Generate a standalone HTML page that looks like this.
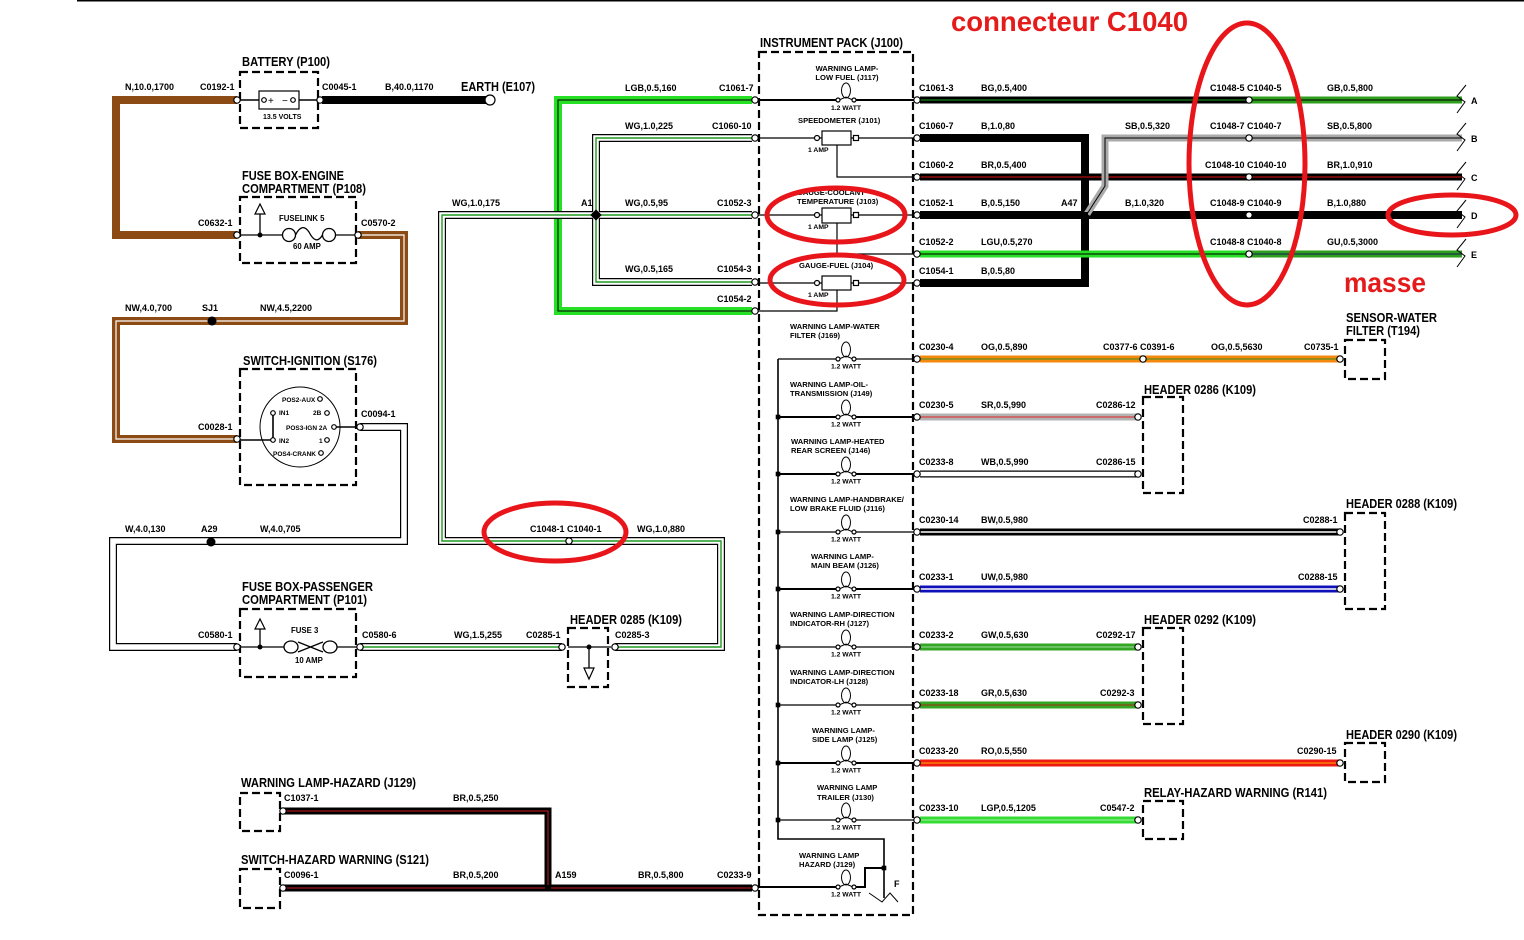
<!DOCTYPE html>
<html><head><meta charset="utf-8">
<style>
html,body{margin:0;padding:0;background:#fff;}
svg{display:block}
text{font-family:"Liberation Sans",Arial,sans-serif;font-weight:bold;fill:#000}
.l{font-size:9px}
.t{font-size:12.5px}
.s{font-size:7.6px}
.w{font-size:6.8px}
.r{fill:#e51b1b;font-size:28px}
.db{fill:none;stroke:#000;stroke-width:2.2;stroke-dasharray:8 4}
.c{fill:#fff;stroke:#000;stroke-width:1.2}
.k{fill:none;stroke:#000}
</style></head><body>
<svg width="1524" height="940" viewBox="0 0 1524 940" xmlns="http://www.w3.org/2000/svg">
<line x1="77" y1="0.75" x2="1524" y2="0.75" stroke="#000" stroke-width="1.5"/>

<!-- ===== LEFT WIRES ===== -->
<g fill="none" stroke-linejoin="miter">
<path d="M237,100H116V235H237" stroke="#8c4b14" stroke-width="8"/>
<path d="M322,100H484" stroke="#000" stroke-width="8"/>
<path d="M358,235H404V321H116V439H237" stroke="#8c4b14" stroke-width="8"/>
<path d="M358,235H404V321H116V439H237" stroke="#fff" stroke-width="1.2"/>
<path d="M360,427H404V541H113V647H237" stroke="#000" stroke-width="8"/>
<path d="M360,427H404V541H113V647H237" stroke="#fff" stroke-width="5.6"/>

<!-- LGB -->
<path d="M752,100H558V311H752" stroke="#25e025" stroke-width="8"/>
<path d="M752,100H558V311H752" stroke="#000" stroke-width="1"/>

<!-- WG -->
<g stroke="#000" stroke-width="8">
<path d="M360,647H562"/><path d="M615,647H721V541H442V215H752"/><path d="M596,215V138H752"/><path d="M596,215V282H752"/>
</g>
<g stroke="#fff" stroke-width="5.6">
<path d="M360,647H562"/><path d="M615,647H721V541H442V215H752"/><path d="M596,215V138H752"/><path d="M596,215V282H752"/>
</g>
<g stroke="#1f9a1f" stroke-width="1.4">
<path d="M360,647H562"/><path d="M615,647H721V541H442V215H752"/><path d="M596,215V138H752"/><path d="M596,215V282H752"/>
</g>

<!-- BR hazard -->
<path d="M283,811H548V888" stroke="#000" stroke-width="7"/>
<path d="M283,888H752" stroke="#000" stroke-width="7"/>
<path d="M283,811H548V888" stroke="#d01a1a" stroke-width="1"/>
<path d="M283,888H752" stroke="#d01a1a" stroke-width="1"/>

<!-- ===== RIGHT UPPER WIRES ===== -->
<path d="M920,138H1085V283H920" stroke="#000" stroke-width="8"/>
<path d="M920,100H1249" stroke="#000" stroke-width="7"/>
<path d="M920,100H1249" stroke="#20a020" stroke-width="1"/>
<path d="M1249,100H1462" stroke="#2e9e1e" stroke-width="7"/>
<path d="M1249,100H1462" stroke="#000" stroke-width="1"/>
<path d="M920,177H1462" stroke="#000" stroke-width="7"/>
<path d="M920,177H1462" stroke="#e01010" stroke-width="1"/>
<path d="M920,215H1462" stroke="#000" stroke-width="8"/>
<path d="M920,254H1249" stroke="#25e025" stroke-width="7"/>
<path d="M920,254H1249" stroke="#000" stroke-width="1"/>
<path d="M1249,254H1462" stroke="#2e9e1e" stroke-width="7"/>
<path d="M1249,254H1462" stroke="#102060" stroke-width="1"/>
<path d="M1087,214L1105,186V138H1462" stroke="#aaa" stroke-width="7"/>
<path d="M1087,214L1105,186V138H1462" stroke="#000" stroke-width="1"/>

<!-- ===== RIGHT LOWER WIRES ===== -->
<path d="M920,359H1340" stroke="#f5890f" stroke-width="7"/>
<path d="M920,359H1340" stroke="#3b8f1f" stroke-width="1"/>
<path d="M920,417H1138" stroke="#b3b3b3" stroke-width="7"/>
<path d="M920,417H1138" stroke="#e02020" stroke-width="1"/>
<path d="M920,474H1138" stroke="#000" stroke-width="7"/>
<path d="M920,474H1138" stroke="#fff" stroke-width="4.6"/>
<path d="M920,532H1340" stroke="#000" stroke-width="7"/>
<path d="M920,532H1340" stroke="#fff" stroke-width="1.5"/>
<path d="M920,589H1340" stroke="#1010b8" stroke-width="7"/>
<path d="M920,589H1340" stroke="#fff" stroke-width="1.5"/>
<path d="M920,647H1138" stroke="#35a525" stroke-width="7"/>
<path d="M920,647H1138" stroke="#9be09b" stroke-width="1"/>
<path d="M920,705H1138" stroke="#35a525" stroke-width="7"/>
<path d="M920,705H1138" stroke="#a03010" stroke-width="1"/>
<path d="M920,763H1340" stroke="#ee1a12" stroke-width="7"/>
<path d="M920,763H1340" stroke="#ffb000" stroke-width="1"/>
<path d="M920,820H1138" stroke="#36dc36" stroke-width="7"/>
<path d="M920,820H1138" stroke="#a0f0a0" stroke-width="1"/>
</g>

<!-- break symbols -->
<g fill="none" stroke="#000" stroke-width="1">
<polyline points="1466,85 1457,96 1465,102 1457,113"/>
<polyline points="1466,123 1457,134 1465,140 1457,151"/>
<polyline points="1466,162 1457,173 1465,179 1457,190"/>
<polyline points="1466,200 1457,211 1465,217 1457,228"/>
<polyline points="1466,239 1457,250 1465,256 1457,267"/>
</g>

<!-- junctions -->
<circle cx="212" cy="321" r="4.5"/>
<circle cx="211" cy="542" r="4.5"/>
<rect x="592" y="211" width="8" height="8" transform="rotate(45 596 215)"/>
<rect x="1082" y="212" width="6" height="6"/>
<rect x="545" y="885" width="6" height="6"/>

<!-- ===== DASHED BOXES ===== -->
<rect class="db" x="240" y="72" width="78" height="56"/>
<rect class="db" x="240" y="197" width="116" height="66"/>
<rect class="db" x="240" y="369" width="116" height="116"/>
<rect class="db" x="240" y="609" width="116" height="68"/>
<rect class="db" x="568" y="628" width="40" height="59"/>
<rect class="db" x="240" y="793" width="40" height="38"/>
<rect class="db" x="240" y="869" width="40" height="39"/>
<rect class="db" x="759" y="52" width="154" height="863"/>
<rect class="db" x="1345" y="340" width="40" height="39"/>
<rect class="db" x="1143" y="397" width="40" height="96"/>
<rect class="db" x="1345" y="513" width="40" height="96"/>
<rect class="db" x="1143" y="628" width="40" height="96"/>
<rect class="db" x="1345" y="743" width="40" height="39"/>
<rect class="db" x="1143" y="801" width="40" height="38"/>

<!-- battery internals -->
<g stroke="#000" stroke-width="1.5" fill="none">
<path d="M240,100H259M299,100H318"/>
<rect x="259" y="91" width="40" height="18" stroke-width="1.2"/>
</g>
<circle cx="264" cy="100" r="2.3" class="c"/>
<circle cx="293" cy="100" r="2.3" class="c"/>
<text x="268" y="104" style="font-size:10px;font-weight:normal">+</text>
<text x="282" y="104" style="font-size:10px;font-weight:normal">−</text>
<text x="263" y="119" style="font-size:7px">13.5 VOLTS</text>
<rect x="482" y="96" width="4" height="8"/>
<circle cx="490" cy="100" r="5" class="c" stroke-width="1.5"/>

<!-- fuse engine internals -->
<g class="k" stroke-width="1.3">
<path d="M240,235H283M335.5,235H357"/>
<circle cx="289" cy="235" r="6.5"/>
<circle cx="329" cy="235" r="6.5"/>
<path d="M295.5,235 Q302,222 309,232 Q316,246 322.5,235"/>
<path d="M260,235V213"/>
</g>
<circle cx="260" cy="235" r="2.5"/>
<polygon points="255,214 265,214 260,204" fill="#fff" stroke="#000" stroke-width="1.2"/>
<text x="279" y="221" style="font-size:7.8px">FUSELINK 5</text>
<text x="293" y="249" style="font-size:7.8px">60 AMP</text>

<!-- ignition switch -->
<circle cx="300" cy="427" r="40" class="k" stroke-width="1"/>
<g class="k" stroke-width="1.6">
<path d="M237,440H271M273,413V440M336,427H360"/>
</g>
<g>
<circle cx="320" cy="399" r="2.3" class="c"/>
<circle cx="273" cy="413" r="2.3" class="c"/>
<circle cx="327" cy="413" r="2.3" class="c"/>
<circle cx="334" cy="427" r="2.3" class="c"/>
<circle cx="273" cy="440" r="2.3" class="c"/>
<circle cx="327" cy="440" r="2.3" class="c"/>
<circle cx="321" cy="453" r="2.3" class="c"/>
</g>
<g style="font-size:6.5px">
<text x="282" y="402" style="font-size:6.5px">POS2-AUX</text>
<text x="279" y="415" style="font-size:6.5px">IN1</text>
<text x="313" y="415" style="font-size:6.5px">2B</text>
<text x="286" y="430" style="font-size:6.5px">POS3-IGN 2A</text>
<text x="279" y="443" style="font-size:6.5px">IN2</text>
<text x="319" y="443" style="font-size:6.5px">1</text>
<text x="273" y="456" style="font-size:6.5px">POS4-CRANK</text>
</g>

<!-- fuse passenger internals -->
<g class="k" stroke-width="1.3">
<path d="M240,647H284M337,647H357"/>
<ellipse cx="291" cy="647" rx="7" ry="6"/>
<ellipse cx="330" cy="647" rx="7" ry="6"/>
<path d="M298,642L323,652M298,652L323,642"/>
<path d="M260,647V628"/>
</g>
<circle cx="260" cy="647" r="2.5"/>
<polygon points="255,629 265,629 260,619" fill="#fff" stroke="#000" stroke-width="1.2"/>
<text x="291" y="633" style="font-size:7.8px">FUSE 3</text>
<text x="295" y="663" style="font-size:7.8px">10 AMP</text>

<!-- header 0285 internals -->
<g class="k" stroke-width="1.3"><path d="M568,647H611M589,647V668"/></g>
<circle cx="589" cy="647" r="2.5"/>
<polygon points="584,668 594,668 589,679" fill="#fff" stroke="#000" stroke-width="1.2"/>

<!-- ===== INSTRUMENT PACK INTERNALS ===== -->
<g class="k">
<path d="M755,100H836M856,100H916" stroke-width="2"/>
<path d="M755,138H916M837,145V177H916" stroke-width="1.2"/>
<path d="M755,215H916M837,223V254H916" stroke-width="1.2"/>
<path d="M755,283H916M837,290V311H755" stroke-width="1.2"/>
<path d="M778,359V839H884V898" stroke-width="1.6"/>
<path d="M778,359H836M856,359H916" stroke-width="1.2"/>
<path d="M778,417H836M856,417H916" stroke-width="2"/>
<path d="M778,474H836M856,474H916" stroke-width="2"/>
<path d="M778,532H836M856,532H916" stroke-width="1.2"/>
<path d="M778,589H836M856,589H916" stroke-width="2"/>
<path d="M778,647H836M856,647H916" stroke-width="1.2"/>
<path d="M778,705H836M856,705H916" stroke-width="1.2"/>
<path d="M778,763H836M856,763H916" stroke-width="2"/>
<path d="M778,820H836M856,820H916" stroke-width="1.2"/>
<path d="M755,887H836M856,887H865V868H884" stroke-width="2"/>
<polyline points="869,893 882,902 890,893 898,902" stroke-width="1"/>
</g>
<!-- gauge boxes -->
<g>
<rect x="822" y="131" width="29" height="14" class="c"/>
<circle cx="817" cy="138" r="2.5" class="c"/><rect x="853.5" y="135.5" width="5" height="5" class="c"/>
<rect x="822" y="208" width="29" height="15" class="c"/>
<circle cx="817" cy="215" r="2.5" class="c"/><rect x="853.5" y="212.5" width="5" height="5" class="c"/>
<rect x="822" y="276" width="29" height="14" class="c"/>
<circle cx="817" cy="283" r="2.5" class="c"/><rect x="853.5" y="280.5" width="5" height="5" class="c"/>
</g>
<!-- bus dots -->
<g>
<rect x="775.7" y="414.7" width="4.6" height="4.6"/>
<rect x="775.7" y="471.7" width="4.6" height="4.6"/>
<rect x="775.7" y="529.7" width="4.6" height="4.6"/>
<rect x="775.7" y="586.7" width="4.6" height="4.6"/>
<rect x="775.7" y="644.7" width="4.6" height="4.6"/>
<rect x="775.7" y="702.7" width="4.6" height="4.6"/>
<rect x="775.7" y="760.7" width="4.6" height="4.6"/>
<rect x="775.7" y="817.7" width="4.6" height="4.6"/>
<rect x="881.7" y="865.7" width="4.6" height="4.6"/>
</g>
<!-- lamps -->
<g class="k" stroke-width="1">
<ellipse cx="846" cy="90.5" rx="4.5" ry="7.5"/><path d="M839,100L846,97L853,100"/>
<ellipse cx="846" cy="349.5" rx="4.5" ry="7.5"/><path d="M839,359L846,356L853,359"/>
<ellipse cx="846" cy="407.5" rx="4.5" ry="7.5"/><path d="M839,417L846,414L853,417"/>
<ellipse cx="846" cy="464.5" rx="4.5" ry="7.5"/><path d="M839,474L846,471L853,474"/>
<ellipse cx="846" cy="522.5" rx="4.5" ry="7.5"/><path d="M839,532L846,529L853,532"/>
<ellipse cx="846" cy="579.5" rx="4.5" ry="7.5"/><path d="M839,589L846,586L853,589"/>
<ellipse cx="846" cy="637.5" rx="4.5" ry="7.5"/><path d="M839,647L846,644L853,647"/>
<ellipse cx="846" cy="695.5" rx="4.5" ry="7.5"/><path d="M839,705L846,702L853,705"/>
<ellipse cx="846" cy="753.5" rx="4.5" ry="7.5"/><path d="M839,763L846,760L853,763"/>
<ellipse cx="846" cy="810.5" rx="4.5" ry="7.5"/><path d="M839,820L846,817L853,820"/>
<ellipse cx="846" cy="877.5" rx="4.5" ry="7.5"/><path d="M839,887L846,884L853,887"/>
</g>
<g>
<circle cx="838" cy="100" r="2" class="c"/><circle cx="854" cy="100" r="2" class="c"/>
<circle cx="838" cy="359" r="2" class="c"/><circle cx="854" cy="359" r="2" class="c"/>
<circle cx="838" cy="417" r="2" class="c"/><circle cx="854" cy="417" r="2" class="c"/>
<circle cx="838" cy="474" r="2" class="c"/><circle cx="854" cy="474" r="2" class="c"/>
<circle cx="838" cy="532" r="2" class="c"/><circle cx="854" cy="532" r="2" class="c"/>
<circle cx="838" cy="589" r="2" class="c"/><circle cx="854" cy="589" r="2" class="c"/>
<circle cx="838" cy="647" r="2" class="c"/><circle cx="854" cy="647" r="2" class="c"/>
<circle cx="838" cy="705" r="2" class="c"/><circle cx="854" cy="705" r="2" class="c"/>
<circle cx="838" cy="763" r="2" class="c"/><circle cx="854" cy="763" r="2" class="c"/>
<circle cx="838" cy="820" r="2" class="c"/><circle cx="854" cy="820" r="2" class="c"/>
<circle cx="838" cy="887" r="2" class="c"/><circle cx="854" cy="887" r="2" class="c"/>
</g>
<g text-anchor="middle">
<text class="w" x="846" y="110">1.2 WATT</text>
<text class="w" x="846" y="368.5">1.2 WATT</text>
<text class="w" x="846" y="426.5">1.2 WATT</text>
<text class="w" x="846" y="483.5">1.2 WATT</text>
<text class="w" x="846" y="541.5">1.2 WATT</text>
<text class="w" x="846" y="598.5">1.2 WATT</text>
<text class="w" x="846" y="656.5">1.2 WATT</text>
<text class="w" x="846" y="714.5">1.2 WATT</text>
<text class="w" x="846" y="772.5">1.2 WATT</text>
<text class="w" x="846" y="829.5">1.2 WATT</text>
<text class="w" x="846" y="896.5">1.2 WATT</text>
<text class="s" x="847" y="71">WARNING LAMP-</text>
<text class="s" x="847" y="80">LOW FUEL (J117)</text>
</g>
<text class="s" x="798" y="123">SPEEDOMETER (J101)</text>
<text class="w" x="808" y="152">1 AMP</text>
<text class="s" x="797" y="195">GAUGE-COOLANT</text>
<text class="s" x="797" y="204">TEMPERATURE (J103)</text>
<text class="w" x="808" y="229">1 AMP</text>
<text class="s" x="799" y="268">GAUGE-FUEL (J104)</text>
<text class="w" x="808" y="297">1 AMP</text>

<text class="s" x="790" y="329">WARNING LAMP-WATER</text>
<text class="s" x="790" y="338">FILTER (J169)</text>
<text class="s" x="790" y="387">WARNING LAMP-OIL-</text>
<text class="s" x="790" y="396">TRANSMISSION (J149)</text>
<text class="s" x="791" y="444">WARNING LAMP-HEATED</text>
<text class="s" x="791" y="453">REAR SCREEN (J146)</text>
<text class="s" x="790" y="502">WARNING LAMP-HANDBRAKE/</text>
<text class="s" x="790" y="511">LOW BRAKE FLUID (J116)</text>
<text class="s" x="811" y="559">WARNING LAMP-</text>
<text class="s" x="811" y="568">MAIN BEAM (J126)</text>
<text class="s" x="790" y="617">WARNING LAMP-DIRECTION</text>
<text class="s" x="790" y="626">INDICATOR-RH (J127)</text>
<text class="s" x="790" y="675">WARNING LAMP-DIRECTION</text>
<text class="s" x="790" y="684">INDICATOR-LH (J128)</text>
<text class="s" x="812" y="733">WARNING LAMP-</text>
<text class="s" x="812" y="742">SIDE LAMP (J125)</text>
<text class="s" x="817" y="790">WARNING LAMP</text>
<text class="s" x="817" y="800">TRAILER (J130)</text>
<text class="s" x="799" y="858">WARNING LAMP</text>
<text class="s" x="799" y="867">HAZARD (J129)</text>
<text class="l" x="894" y="887">F</text>

<!-- ===== CONNECTORS ===== -->
<g class="c">
<circle cx="237" cy="100" r="3.2"/><circle cx="320" cy="100" r="3.2"/>
<circle cx="237" cy="235" r="3.2"/><circle cx="358" cy="235" r="3.2"/>
<circle cx="237" cy="439" r="3.2"/><circle cx="360" cy="427" r="3.2"/>
<circle cx="237" cy="647" r="3.2"/><circle cx="360" cy="647" r="3.2"/>
<circle cx="562" cy="647" r="3.2"/><circle cx="615" cy="647" r="3.2"/>
<circle cx="569" cy="541" r="3.2"/>
<circle cx="283" cy="811" r="3.2"/><circle cx="283" cy="888" r="3.2"/>
<circle cx="755" cy="100" r="3.2"/><circle cx="755" cy="138" r="3.2"/>
<circle cx="755" cy="215" r="3.2"/><circle cx="755" cy="282" r="3.2"/>
<circle cx="755" cy="311" r="3.2"/><circle cx="755" cy="888" r="3.2"/>
<circle cx="917" cy="100" r="3.2"/><circle cx="917" cy="138" r="3.2"/>
<circle cx="917" cy="177" r="3.2"/><circle cx="917" cy="215" r="3.2"/>
<circle cx="917" cy="254" r="3.2"/><circle cx="917" cy="283" r="3.2"/>
<circle cx="917" cy="359" r="3.2"/><circle cx="917" cy="417" r="3.2"/>
<circle cx="917" cy="474" r="3.2"/><circle cx="917" cy="532" r="3.2"/>
<circle cx="917" cy="589" r="3.2"/><circle cx="917" cy="647" r="3.2"/>
<circle cx="917" cy="705" r="3.2"/><circle cx="917" cy="763" r="3.2"/>
<circle cx="917" cy="820" r="3.2"/>
<circle cx="1249" cy="100" r="3.2"/><circle cx="1249" cy="138" r="3.2"/>
<circle cx="1249" cy="177" r="3.2"/><circle cx="1249" cy="215" r="3.2"/>
<circle cx="1249" cy="254" r="3.2"/><circle cx="1143" cy="359" r="3.2"/>
<circle cx="1340" cy="359" r="3.2"/><circle cx="1138" cy="417" r="3.2"/>
<circle cx="1138" cy="474" r="3.2"/><circle cx="1340" cy="532" r="3.2"/>
<circle cx="1340" cy="589" r="3.2"/><circle cx="1138" cy="647" r="3.2"/>
<circle cx="1138" cy="705" r="3.2"/><circle cx="1340" cy="763" r="3.2"/>
<circle cx="1138" cy="820" r="3.2"/>
</g>

<!-- ===== TITLES ===== -->
<text class="t" x="242" y="66" textLength="88" lengthAdjust="spacingAndGlyphs">BATTERY (P100)</text>
<text class="t" x="461" y="91" textLength="74" lengthAdjust="spacingAndGlyphs">EARTH (E107)</text>
<text class="t" x="242" y="180" textLength="102" lengthAdjust="spacingAndGlyphs">FUSE BOX-ENGINE</text>
<text class="t" x="242" y="193" textLength="124" lengthAdjust="spacingAndGlyphs">COMPARTMENT (P108)</text>
<text class="t" x="243" y="365" textLength="134" lengthAdjust="spacingAndGlyphs">SWITCH-IGNITION (S176)</text>
<text class="t" x="242" y="591" textLength="131" lengthAdjust="spacingAndGlyphs">FUSE BOX-PASSENGER</text>
<text class="t" x="242" y="604" textLength="125" lengthAdjust="spacingAndGlyphs">COMPARTMENT (P101)</text>
<text class="t" x="570" y="624" textLength="112" lengthAdjust="spacingAndGlyphs">HEADER 0285 (K109)</text>
<text class="t" x="241" y="787" textLength="175" lengthAdjust="spacingAndGlyphs">WARNING LAMP-HAZARD (J129)</text>
<text class="t" x="241" y="864" textLength="188" lengthAdjust="spacingAndGlyphs">SWITCH-HAZARD WARNING (S121)</text>
<text class="t" x="760" y="47" textLength="143" lengthAdjust="spacingAndGlyphs">INSTRUMENT PACK (J100)</text>
<text class="t" x="1346" y="322" textLength="91" lengthAdjust="spacingAndGlyphs">SENSOR-WATER</text>
<text class="t" x="1346" y="335" textLength="74" lengthAdjust="spacingAndGlyphs">FILTER (T194)</text>
<text class="t" x="1144" y="394" textLength="112" lengthAdjust="spacingAndGlyphs">HEADER 0286 (K109)</text>
<text class="t" x="1346" y="508" textLength="111" lengthAdjust="spacingAndGlyphs">HEADER 0288 (K109)</text>
<text class="t" x="1144" y="624" textLength="112" lengthAdjust="spacingAndGlyphs">HEADER 0292 (K109)</text>
<text class="t" x="1346" y="739" textLength="111" lengthAdjust="spacingAndGlyphs">HEADER 0290 (K109)</text>
<text class="t" x="1144" y="797" textLength="183" lengthAdjust="spacingAndGlyphs">RELAY-HAZARD WARNING (R141)</text>

<!-- ===== LABELS LEFT ===== -->
<g class="l">
<text class="l" x="125" y="90">N,10.0,1700</text>
<text class="l" x="200" y="90">C0192-1</text>
<text class="l" x="322" y="90">C0045-1</text>
<text class="l" x="385" y="90">B,40.0,1170</text>
<text class="l" x="198" y="226">C0632-1</text>
<text class="l" x="361" y="226">C0570-2</text>
<text class="l" x="125" y="311">NW,4.0,700</text>
<text class="l" x="202" y="311">SJ1</text>
<text class="l" x="260" y="311">NW,4.5,2200</text>
<text class="l" x="198" y="430">C0028-1</text>
<text class="l" x="361" y="417">C0094-1</text>
<text class="l" x="125" y="532">W,4.0,130</text>
<text class="l" x="201" y="532">A29</text>
<text class="l" x="260" y="532">W,4.0,705</text>
<text class="l" x="198" y="638">C0580-1</text>
<text class="l" x="362" y="638">C0580-6</text>
<text class="l" x="454" y="638">WG,1.5,255</text>
<text class="l" x="526" y="638">C0285-1</text>
<text class="l" x="615" y="638">C0285-3</text>
<text class="l" x="530" y="532">C1048-1 C1040-1</text>
<text class="l" x="637" y="532">WG,1.0,880</text>
<text class="l" x="452" y="206">WG,1.0,175</text>
<text class="l" x="625" y="91">LGB,0.5,160</text>
<text class="l" x="719" y="91">C1061-7</text>
<text class="l" x="625" y="129">WG,1.0,225</text>
<text class="l" x="712" y="129">C1060-10</text>
<text class="l" x="581" y="206">A1</text>
<text class="l" x="625" y="206">WG,0.5,95</text>
<text class="l" x="717" y="206">C1052-3</text>
<text class="l" x="625" y="272">WG,0.5,165</text>
<text class="l" x="717" y="272">C1054-3</text>
<text class="l" x="717" y="302">C1054-2</text>
<text class="l" x="284" y="801">C1037-1</text>
<text class="l" x="453" y="801">BR,0.5,250</text>
<text class="l" x="284" y="878">C0096-1</text>
<text class="l" x="453" y="878">BR,0.5,200</text>
<text class="l" x="555" y="878">A159</text>
<text class="l" x="638" y="878">BR,0.5,800</text>
<text class="l" x="717" y="878">C0233-9</text>
</g>

<!-- ===== LABELS RIGHT ===== -->
<g>
<text class="l" x="919" y="91">C1061-3</text>
<text class="l" x="981" y="91">BG,0.5,400</text>
<text class="l" x="1210" y="91">C1048-5 C1040-5</text>
<text class="l" x="1327" y="91">GB,0.5,800</text>
<text class="l" x="1471" y="104">A</text>
<text class="l" x="919" y="129">C1060-7</text>
<text class="l" x="981" y="129">B,1.0,80</text>
<text class="l" x="1125" y="129">SB,0.5,320</text>
<text class="l" x="1210" y="129">C1048-7 C1040-7</text>
<text class="l" x="1327" y="129">SB,0.5,800</text>
<text class="l" x="1471" y="142">B</text>
<text class="l" x="919" y="168">C1060-2</text>
<text class="l" x="981" y="168">BR,0.5,400</text>
<text class="l" x="1205" y="168">C1048-10 C1040-10</text>
<text class="l" x="1327" y="168">BR,1.0,910</text>
<text class="l" x="1471" y="181">C</text>
<text class="l" x="919" y="206">C1052-1</text>
<text class="l" x="981" y="206">B,0.5,150</text>
<text class="l" x="1061" y="206">A47</text>
<text class="l" x="1125" y="206">B,1.0,320</text>
<text class="l" x="1210" y="206">C1048-9 C1040-9</text>
<text class="l" x="1327" y="206">B,1.0,880</text>
<text class="l" x="1471" y="219">D</text>
<text class="l" x="919" y="245">C1052-2</text>
<text class="l" x="981" y="245">LGU,0.5,270</text>
<text class="l" x="1210" y="245">C1048-8 C1040-8</text>
<text class="l" x="1327" y="245">GU,0.5,3000</text>
<text class="l" x="1471" y="258">E</text>
<text class="l" x="919" y="274">C1054-1</text>
<text class="l" x="981" y="274">B,0.5,80</text>

<text class="l" x="919" y="350">C0230-4</text>
<text class="l" x="981" y="350">OG,0.5,890</text>
<text class="l" x="1103" y="350">C0377-6 C0391-6</text>
<text class="l" x="1211" y="350">OG,0.5,5630</text>
<text class="l" x="1304" y="350">C0735-1</text>
<text class="l" x="919" y="408">C0230-5</text>
<text class="l" x="981" y="408">SR,0.5,990</text>
<text class="l" x="1096" y="408">C0286-12</text>
<text class="l" x="919" y="465">C0233-8</text>
<text class="l" x="981" y="465">WB,0.5,990</text>
<text class="l" x="1096" y="465">C0286-15</text>
<text class="l" x="919" y="523">C0230-14</text>
<text class="l" x="981" y="523">BW,0.5,980</text>
<text class="l" x="1303" y="523">C0288-1</text>
<text class="l" x="919" y="580">C0233-1</text>
<text class="l" x="981" y="580">UW,0.5,980</text>
<text class="l" x="1298" y="580">C0288-15</text>
<text class="l" x="919" y="638">C0233-2</text>
<text class="l" x="981" y="638">GW,0.5,630</text>
<text class="l" x="1096" y="638">C0292-17</text>
<text class="l" x="919" y="696">C0233-18</text>
<text class="l" x="981" y="696">GR,0.5,630</text>
<text class="l" x="1100" y="696">C0292-3</text>
<text class="l" x="919" y="754">C0233-20</text>
<text class="l" x="981" y="754">RO,0.5,550</text>
<text class="l" x="1297" y="754">C0290-15</text>
<text class="l" x="919" y="811">C0233-10</text>
<text class="l" x="981" y="811">LGP,0.5,1205</text>
<text class="l" x="1100" y="811">C0547-2</text>
</g>

<!-- ===== RED ANNOTATIONS ===== -->
<g fill="none" stroke="#e8161a" stroke-width="5">
<ellipse cx="1247" cy="164" rx="58" ry="141"/>
<ellipse cx="1452" cy="215" rx="64" ry="20"/>
<ellipse cx="836" cy="215" rx="69" ry="27"/>
<ellipse cx="837" cy="280" rx="67" ry="25"/>
<ellipse cx="555" cy="532" rx="71" ry="29"/>
</g>
<text class="r" x="951" y="31" textLength="237" lengthAdjust="spacingAndGlyphs">connecteur C1040</text>
<text class="r" x="1344" y="292" textLength="82" lengthAdjust="spacingAndGlyphs">masse</text>
</svg>
</body></html>
